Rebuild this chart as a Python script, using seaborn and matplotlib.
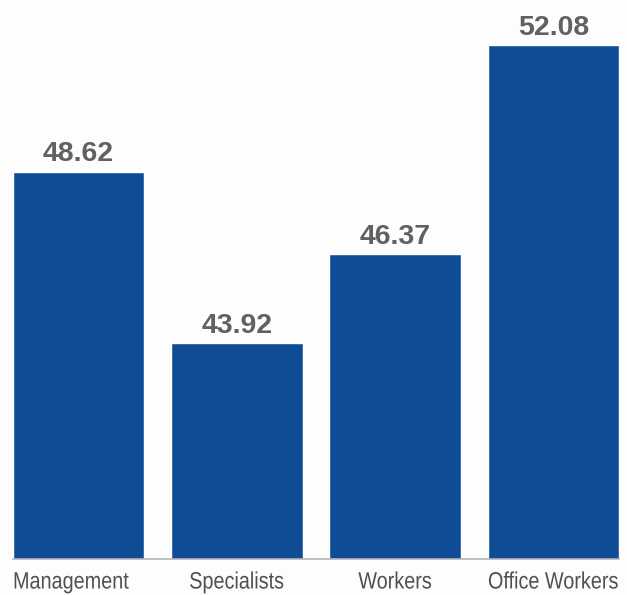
import matplotlib
matplotlib.use("Agg")
import matplotlib.pyplot as plt
from matplotlib import patheffects
from matplotlib.transforms import Affine2D
import seaborn as sns
import pandas as pd

categories = ["Management", "Specialists", "Workers", "Office Workers"]
values = [48.62, 43.92, 46.37, 52.08]
value_labels = ["48.62", "43.92", "46.37", "52.08"]


class Condense(patheffects.AbstractPathEffect):
    """Squeeze glyph outlines horizontally, keeping one side (or the centre) fixed."""

    def __init__(self, factor, anchor="center"):
        super().__init__()
        self.factor = factor
        self.anchor = anchor

    def draw_path(self, renderer, gc, tpath, affine, rgbFace=None):
        xs = tpath.vertices[:, 0]
        if len(xs):
            cx = {"left": xs.min(), "right": xs.max()}.get(
                self.anchor, (xs.min() + xs.max()) / 2)
        else:
            cx = 0
        squeeze = Affine2D().translate(-cx, 0).scale(self.factor, 1).translate(cx, 0)
        renderer.draw_path(gc, tpath, squeeze + affine, rgbFace)


sns.set_theme(style="white")
plt.rcParams["font.family"] = ["Liberation Sans", "DejaVu Sans"]

df = pd.DataFrame({"category": categories, "value": values})

fig = plt.figure(figsize=(6.27, 5.95), dpi=100, facecolor="#fdfdfd")
ax = fig.add_axes([13 / 627, 36 / 595, 606 / 627, 549 / 595])
ax.set_facecolor("#fdfdfd")

sns.barplot(data=df, x="category", y="value", color="#0f4c96", width=0.83,
            saturation=1, ax=ax)

ax.set_ylim(38.0, 53.05)
ax.set_xlim(-0.415, 3.415)
ax.set_xlabel("")
ax.set_ylabel("")
ax.set_yticks([])
ax.tick_params(axis="x", length=0)
ax.set_xticklabels([])
for side in ["top", "right", "left"]:
    ax.spines[side].set_visible(False)
ax.spines["bottom"].set_color("#b5b5b5")
ax.spines["bottom"].set_linewidth(1.2)

# Category names under the bars; the outer two hug the plot edges.
xmin, xmax = ax.get_xlim()
last = len(categories) - 1
for i, name in enumerate(categories):
    if i == 0:
        x, ha = xmin, "left"
    elif i == last:
        x, ha = xmax, "right"
    else:
        x, ha = i, "center"
    ax.annotate(name, (x, 0), xycoords=ax.get_xaxis_transform(),
                xytext=(0, -9), textcoords="offset points",
                ha=ha, va="top", fontsize=17, color="#505050",
                path_effects=[Condense(0.84, anchor=ha)], annotation_clip=False)

for i, (v, t) in enumerate(zip(values, value_labels)):
    ax.annotate(t, (i, v), xytext=(0, 3), textcoords="offset points",
                ha="center", va="bottom", fontsize=20.5, fontweight="bold",
                color="#616161")

fig.savefig("out.png", dpi=100, facecolor=fig.get_facecolor())
